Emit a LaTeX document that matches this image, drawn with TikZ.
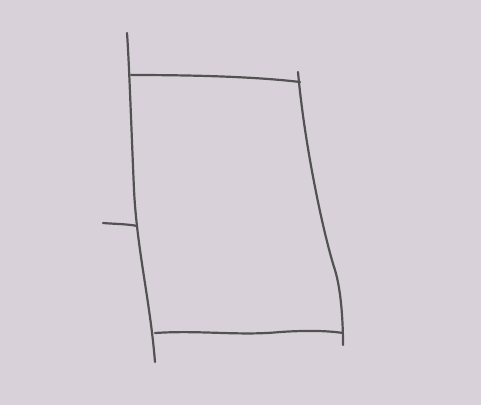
\documentclass[tikz,border=0pt]{standalone}
\begin{document}
\begin{tikzpicture}[x=1pt,y=-1pt,
  pen/.style={draw=black!68,line width=2.2pt,line cap=round,line join=round}]
\fill[fill={rgb,255:red,217;green,209;blue,217}] (0,0) rectangle (481,405);
\useasboundingbox (0,0) rectangle (481,405);
% left side
\draw[pen] (127,33) .. controls (129,60) and (131,120) .. (134,190)
  .. controls (137,250) and (150,300) .. (155,362);
% top
\draw[pen] (131,75) .. controls (180,75) and (250,76) .. (300,82);
% right side
\draw[pen] (298,72) .. controls (305,150) and (325,240) .. (335,270)
  .. controls (341,290) and (343,320) .. (343,345);
% bottom
\draw[pen] (155,333) .. controls (200,330) and (240,336) .. (280,332)
  .. controls (310,330) and (330,331) .. (343,333);
% stub
\draw[pen] (103,223) .. controls (115,224) and (128,224) .. (137,226);
\end{tikzpicture}
\end{document}
